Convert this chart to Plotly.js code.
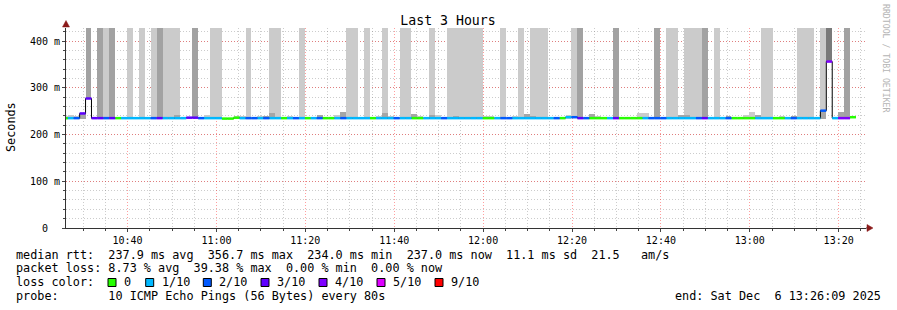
<!DOCTYPE html>
<html><head><meta charset="utf-8">
<script src="https://cdn.plot.ly/plotly-3.0.1.min.js"></script>
<style>html,body{margin:0;padding:0;background:#fff;}#chart{width:897px;height:310px;}</style>
</head><body><div id="chart"></div>
<script>
// ---- data: one entry per 80 s step, first step starts 10:25:13 ----
const medianMs = [
 235,235,235,245,277,235,235,235,235,235,
 235,235,235,235,235,235,235,235,235,235,
 235,236,236,235,235,235,235,234,234,236,
 235,235,235,235,235,235,235,235,235,235,
 235,235,235,235,235,235,235,235,235,235,
 235,235,235,235,235,235,235,235,235,235,
 235,235,235,235,235,235,235,235,235,235,
 235,235,235,235,235,235,235,235,235,235,
 235,235,235,235,235,237,237,235,235,235,
 235,235,235,235,235,235,235,235,235,235,
 235,235,235,235,235,235,235,235,235,235,
 235,235,235,235,235,235,235,235,235,235,
 235,235,235,235,235,235,235,235,251,356,
 235,235,235,237];
const lossCount = [
 0,1,2,3,3,3,3,2,3,0,
 1,1,1,1,1,2,3,1,1,1,
 1,3,3,2,1,1,1,0,0,0,
 1,2,2,1,2,1,1,0,1,2,
 1,0,1,2,0,0,1,2,1,1,
 1,1,0,1,1,1,2,1,1,0,
 0,1,1,1,2,1,1,1,1,1,
 1,0,0,1,2,2,1,1,1,1,
 1,1,1,2,0,1,2,3,2,0,
 0,0,1,3,0,0,0,0,1,2,
 2,2,1,1,1,1,1,2,3,1,
 1,1,2,0,0,0,0,1,1,1,
 0,0,1,2,1,1,1,1,2,4,
 1,4,4,0];
// shade of the off-chart outlier smoke: 0 none, 1 light, 2 medium, 3 dark
const outlierShade = [
 0,0,0,0,2,0,2,1,2,0,
 0,1,0,1,0,1,2,1,1,1,
 0,0,2,0,0,1,1,0,0,0,
 0,1,0,0,0,1,1,0,0,0,
 1,0,0,0,0,0,0,0,1,1,
 0,1,0,0,1,0,0,1,1,0,
 0,0,1,0,0,1,1,1,1,1,
 1,0,0,0,1,0,0,1,0,1,
 1,1,0,0,0,0,1,2,0,0,
 0,0,0,2,0,0,0,0,0,0,
 2,0,1,1,0,1,1,1,2,0,
 1,0,0,0,0,0,0,0,1,1,
 0,0,0,0,1,1,1,0,1,3,
 0,0,2,0];
// top of the small in-chart smoke (ms), light shade; 0 = none
const smokeLightTop = [
 240,242,240,0,0,238,0,0,0,0,
 0,0,0,0,238,0,0,0,0,0,
 0,0,0,0,241,0,0,0,236,239,
 240,0,0,240,0,0,0,0,240,0,
 0,0,0,0,0,0,242,0,0,241,
 0,0,0,240,0,239,0,0,0,0,
 240,0,0,242,0,0,0,0,0,0,
 0,240,240,0,0,0,239,0,0,0,
 0,0,0,0,0,242,0,0,0,0,
 239,0,0,0,0,0,238,245,245,0,
 0,0,241,0,0,0,0,0,0,0,
 0,0,0,0,0,241,248,0,0,0,
 0,240,0,0,0,0,0,0,0,0,
 0,0,0,0];
// top of the small in-chart smoke (ms), medium shade; 0 = none
const smokeMidTop = [
 0,0,0,245,0,0,0,0,0,0,
 0,0,0,0,0,0,0,0,0,241,
 0,0,0,0,0,0,0,0,0,0,
 0,0,0,0,240,246,0,0,0,0,
 0,0,0,242,0,0,0,248,0,0,
 0,0,0,0,246,0,0,0,0,243,
 0,0,241,0,0,0,240,0,0,0,
 0,0,0,0,0,0,0,0,243,239,
 0,0,0,0,0,0,0,0,0,243,
 0,0,0,0,0,0,0,0,0,0,
 0,0,0,0,241,242,0,0,0,0,
 0,0,240,0,0,0,0,241,0,0,
 0,0,0,240,0,0,0,0,251,0,
 0,248,0,0];

const lossKeys = [0,1,2,3,4,5,9];
const lossLabels = ['0','1/10','2/10','3/10','4/10','5/10','9/10'];
const lossColors = ['#26ff00','#00b8ff','#0059ff','#5e00ff','#7e00ff','#dd00ff','#ff0000'];
const yTickVals = [0,100,200,300,400];
const yTickText = ['0  ','100 m','200 m','300 m','400 m'];

const statsLine = 'median rtt:  237.9 ms avg  356.7 ms max  234.0 ms min  237.0 ms now  11.1 ms sd  21.5   am/s';
const lossLine = 'packet loss: 8.73 % avg  39.38 % max  0.00 % min  0.00 % now';
const probeLine = 'probe:       10 ICMP Echo Pings (56 Bytes) every 80s';
const endLine = 'end: Sat Dec  6 13:26:09 2025';

const FIRST_STEP_START = Date.UTC(2025,11,6,10,25,13);
const STEP_MS = 80000;
const MIN_RTT = 234.0;
const OFFCHART_MS = 1000;
const RANGE = ['2025-12-06 10:26:09','2025-12-06 13:26:09'];

// ---- helpers ----
const nb = s => s.replace(/ /g,'\u00a0');
const fmt = ms => new Date(ms).toISOString().replace('T',' ').replace('Z','');
const n = medianMs.length;
const stepStart = i => FIRST_STEP_START + i*STEP_MS;
const center = i => fmt(stepStart(i) + STEP_MS/2);
const lossKeyIndex = c => c>=9 ? 6 : (c>=5 ? 5 : c);

const traces = [];
const shadeColors = {1:'#cbcbcb',2:'#a2a2a2',3:'#7a7a7a'};
[1,2,3].forEach(s=>{
  const xs=[],bs=[],ys=[];
  for(let i=0;i<n;i++) if(outlierShade[i]===s){xs.push(center(i));bs.push(medianMs[i]);ys.push(OFFCHART_MS-medianMs[i]);}
  traces.push({type:'bar',x:xs,y:ys,base:bs,width:STEP_MS,marker:{color:shadeColors[s],line:{width:0}},hoverinfo:'skip'});
});
[[smokeLightTop,'#cbcbcb'],[smokeMidTop,'#a6a6a6']].forEach(([arr,col])=>{
  const xs=[],bs=[],ys=[];
  for(let i=0;i<n;i++) if(arr[i]>0){xs.push(center(i));bs.push(MIN_RTT);ys.push(arr[i]-MIN_RTT);}
  traces.push({type:'bar',x:xs,y:ys,base:bs,width:STEP_MS,marker:{color:col,line:{width:0}},hoverinfo:'skip'});
});
// black median step line
{
  const xs=[],ys=[];
  for(let i=0;i<n;i++){xs.push(fmt(stepStart(i)));ys.push(medianMs[i]);}
  xs.push(fmt(stepStart(n)));ys.push(medianMs[n-1]);
  traces.push({type:'scatter',mode:'lines',x:xs,y:ys,line:{color:'#000',width:1,shape:'hv'},hoverinfo:'skip'});
}
// coloured median segments by loss
lossKeys.forEach((k,ki)=>{
  const xs=[],ys=[];
  for(let i=0;i<n;i++) if(lossKeyIndex(lossCount[i])===ki){
    xs.push(fmt(stepStart(i)),fmt(stepStart(i+1)),null);
    ys.push(medianMs[i],medianMs[i],null);
  }
  if(xs.length) traces.push({type:'scatter',mode:'lines',x:xs,y:ys,line:{color:lossColors[ki],width:2.5},hoverinfo:'skip',connectgaps:false});
});

// ---- layout helpers (pixel -> paper) ----
const L=66, T=28, W=800, H=200;
const px = x => (x-L)/W;
const py = y => (T+H-y)/H;
const mono = 'DejaVu Sans Mono';
const txtFont = {family:mono,size:11.8,color:'#000'};

const annotations = [
  {text:nb(statsLine),x:px(15),y:py(254.5),xanchor:'left',yanchor:'middle'},
  {text:nb(lossLine),x:px(15),y:py(268),xanchor:'left',yanchor:'middle'},
  {text:nb('loss color:'),x:px(15),y:py(282),xanchor:'left',yanchor:'middle'},
  {text:nb(probeLine),x:px(15),y:py(296),xanchor:'left',yanchor:'middle'},
  {text:nb(endLine),x:px(882),y:py(296),xanchor:'right',yanchor:'middle'},
  {text:'Seconds',x:px(11),y:py(127),xanchor:'center',yanchor:'middle',textangle:-90},
  {text:'RRDTOOL / TOBI OETIKER',x:px(886),y:py(59),xanchor:'center',yanchor:'middle',textangle:90,font:{family:mono,size:8.2,color:'#b4b4b4'}}
].map(a=>Object.assign({xref:'paper',yref:'paper',showarrow:false,font:txtFont,borderpad:0},a));

const legendX = [108,145.7,203.3,261,319,377,435];
const shapes = [];
lossKeys.forEach((k,ki)=>{
  shapes.push({type:'rect',xref:'paper',yref:'paper',x0:px(legendX[ki]),x1:px(legendX[ki]+8),y0:py(286.5),y1:py(278.5),fillcolor:lossColors[ki],line:{color:'#000',width:1}});
  annotations.push({xref:'paper',yref:'paper',showarrow:false,borderpad:0,font:txtFont,text:lossLabels[ki],x:px(legendX[ki]+15),y:py(282),xanchor:'left',yanchor:'middle'});
});
// axis arrows
shapes.push({type:'line',xref:'paper',yref:'paper',x0:px(866),x1:px(869),y0:0,y1:0,line:{color:'#333',width:1}});
shapes.push({type:'path',xref:'paper',yref:'paper',path:`M ${px(873)},${py(228)} L ${px(867)},${py(224.5)} L ${px(867)},${py(231.5)} Z`,fillcolor:'#8b1a1a',line:{color:'#8b1a1a',width:0.5}});
shapes.push({type:'path',xref:'paper',yref:'paper',path:`M ${px(66)},${py(20.5)} L ${px(62.5)},${py(27)} L ${px(69.5)},${py(27)} Z`,fillcolor:'#8b1a1a',line:{color:'#8b1a1a',width:0.5}});

const majorGrid = 'rgba(255,0,0,0.38)';
const minorGrid = 'rgba(120,120,120,0.38)';
const layout = {
  width:897,height:310,
  margin:{l:L,r:897-L-W,t:T,b:310-T-H,pad:0},
  paper_bgcolor:'#fff',plot_bgcolor:'#fff',
  showlegend:false,barmode:'overlay',bargap:0,
  title:{text:'Last 3 Hours',x:448/897,xanchor:'center',xref:'container',y:1-20/310,yanchor:'middle',yref:'container',font:{family:mono,size:13.2,color:'#000'}},
  xaxis:{type:'date',range:RANGE,tick0:'2025-12-06 10:00:00',dtick:1200000,tickformat:'%H:%M',
    showgrid:true,gridcolor:majorGrid,griddash:'1px,2px',gridwidth:1,
    minor:{dtick:300000,tick0:'2025-12-06 10:00:00',showgrid:true,gridcolor:minorGrid,griddash:'1px,2px',ticks:'outside',ticklen:2,tickcolor:'#444'},
    ticks:'outside',ticklen:3,tickcolor:'#444',showline:true,linecolor:'#333',linewidth:1,zeroline:false,
    tickfont:{family:mono,size:10,color:'#000'},fixedrange:true},
  yaxis:{range:[0,427.8],tickmode:'array',tickvals:yTickVals,ticktext:yTickText.map(nb),
    showgrid:true,gridcolor:majorGrid,griddash:'1px,2px',gridwidth:1,
    minor:{tick0:0,dtick:20,showgrid:true,gridcolor:minorGrid,griddash:'1px,2px',ticks:'outside',ticklen:2,tickcolor:'#444'},
    ticks:'outside',ticklen:3,tickcolor:'#444',showline:true,linecolor:'#333',linewidth:1,zeroline:false,
    tickfont:{family:mono,size:10,color:'#000'},fixedrange:true},
  annotations:annotations,
  shapes:shapes
};
Plotly.newPlot('chart',traces,layout,{staticPlot:true,displayModeBar:false});
</script></body></html>
